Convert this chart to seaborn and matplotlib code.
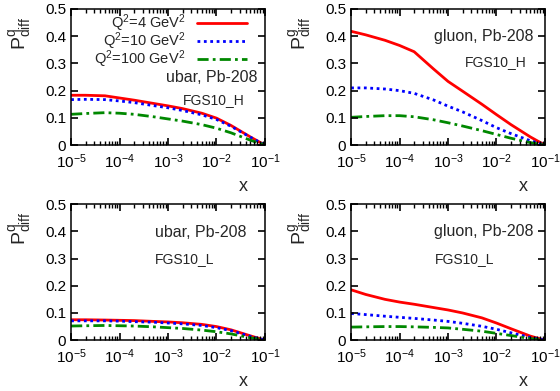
import numpy as np
import pandas as pd
import matplotlib
matplotlib.use("Agg")
import matplotlib.pyplot as plt
from matplotlib.ticker import LogLocator, NullFormatter
import seaborn as sns

sns.set_style("ticks")
plt.rcParams["font.family"] = ["Liberation Sans", "DejaVu Sans"]
plt.rcParams["mathtext.fontset"] = "custom"
plt.rcParams["mathtext.rm"] = "Liberation Sans"
plt.rcParams["mathtext.it"] = "Liberation Sans:italic"
plt.rcParams["axes.axisbelow"] = False

# data
x_grid = [1e-5, 2e-5, 5e-5, 1e-4, 2e-4, 5e-4, 1e-3, 2e-3, 5e-3, 1e-2, 2e-2, 5e-2, 1e-1]
q2_labels = ["Q$^2$=4 GeV$^2$", "Q$^2$=10 GeV$^2$", "Q$^2$=100 GeV$^2$"]

ubar_H_q4 = [0.183, 0.183, 0.181, 0.173, 0.165, 0.153, 0.144, 0.134, 0.117, 0.099, 0.072, 0.030, 0.0]
ubar_H_q10 = [0.167, 0.168, 0.167, 0.162, 0.156, 0.145, 0.137, 0.127, 0.111, 0.094, 0.069, 0.029, 0.0]
ubar_H_q100 = [0.113, 0.116, 0.119, 0.117, 0.113, 0.104, 0.096, 0.088, 0.075, 0.062, 0.045, 0.018, 0.0]

gluon_H_q4 = [0.418, 0.405, 0.385, 0.366, 0.343, 0.280, 0.234, 0.198, 0.150, 0.112, 0.075, 0.030, 0.0]
gluon_H_q10 = [0.210, 0.210, 0.206, 0.200, 0.190, 0.166, 0.143, 0.122, 0.090, 0.064, 0.042, 0.016, 0.0]
gluon_H_q100 = [0.102, 0.105, 0.108, 0.108, 0.104, 0.093, 0.082, 0.070, 0.053, 0.039, 0.025, 0.009, 0.0]

ubar_L_q4 = [0.075, 0.075, 0.074, 0.073, 0.072, 0.069, 0.067, 0.064, 0.058, 0.050, 0.038, 0.016, 0.0]
ubar_L_q10 = [0.071, 0.071, 0.071, 0.070, 0.068, 0.066, 0.063, 0.060, 0.054, 0.046, 0.035, 0.014, 0.0]
ubar_L_q100 = [0.052, 0.053, 0.054, 0.053, 0.052, 0.049, 0.046, 0.043, 0.037, 0.031, 0.023, 0.009, 0.0]

gluon_L_q4 = [0.185, 0.168, 0.150, 0.140, 0.132, 0.120, 0.111, 0.100, 0.082, 0.063, 0.042, 0.015, 0.0]
gluon_L_q10 = [0.098, 0.094, 0.088, 0.084, 0.080, 0.074, 0.069, 0.062, 0.051, 0.040, 0.027, 0.010, 0.0]
gluon_L_q100 = [0.048, 0.049, 0.050, 0.050, 0.049, 0.047, 0.045, 0.040, 0.033, 0.025, 0.017, 0.006, 0.0]

panels = [
    # (axes rect, series, parton superscript, label1, label2, text positions)
    ([0.127, 0.629, 0.346, 0.348], [ubar_H_q4, ubar_H_q10, ubar_H_q100], "q",
     "ubar, Pb-208", "FGS10_H", (0.964, 0.50, "right"), (0.897, 0.33, "right")),
    ([0.627, 0.629, 0.346, 0.348], [gluon_H_q4, gluon_H_q10, gluon_H_q100], "g",
     "gluon, Pb-208", "FGS10_H", (0.428, 0.80, "left"), (0.588, 0.61, "left")),
    ([0.127, 0.130, 0.346, 0.348], [ubar_L_q4, ubar_L_q10, ubar_L_q100], "q",
     "ubar, Pb-208", "FGS10_L", (0.433, 0.794, "left"), (0.433, 0.60, "left")),
    ([0.627, 0.130, 0.346, 0.348], [gluon_L_q4, gluon_L_q10, gluon_L_q100], "g",
     "gluon, Pb-208", "FGS10_L", (0.428, 0.80, "left"), (0.433, 0.60, "left")),
]

palette = {q2_labels[0]: "#ff0000", q2_labels[1]: "#0000ff", q2_labels[2]: "#008800"}
dashes = {q2_labels[0]: "", q2_labels[1]: (1, 1.3), q2_labels[2]: (4, 1.5, 1, 1.5)}

fig = plt.figure(figsize=(5.6, 3.91), dpi=100)

for i, (rect, series, parton, lab1, lab2, pos1, pos2) in enumerate(panels):
    ax = fig.add_axes(rect)
    df = pd.DataFrame({
        "x": np.tile(x_grid, 3),
        "P": np.concatenate(series),
        "Q2": np.repeat(q2_labels, len(x_grid)),
    })
    sns.lineplot(data=df, x="x", y="P", hue="Q2", style="Q2", palette=palette,
                 dashes=dashes, linewidth=2, legend=False, ax=ax)
    ax.set_xscale("log")
    ax.set_xlim(1e-5, 1e-1)
    ax.set_ylim(0, 0.5)
    ax.set_yticks([0, 0.1, 0.2, 0.3, 0.4, 0.5])
    ax.set_yticklabels(["0", "0.1", "0.2", "0.3", "0.4", "0.5"])
    ax.set_xticks([1e-5, 1e-4, 1e-3, 1e-2, 1e-1])
    ax.set_xticklabels(["10$^{-5}$", "10$^{-4}$", "10$^{-3}$", "10$^{-2}$", "10$^{-1}$"])
    ax.xaxis.set_minor_locator(LogLocator(base=10, subs=np.arange(2, 10), numticks=100))
    ax.xaxis.set_minor_formatter(NullFormatter())
    ax.tick_params(which="both", direction="in", top=True, right=True, labelsize=11,
                   color="black", labelcolor="black")
    ax.tick_params(which="major", length=5, width=1.2)
    ax.tick_params(axis="x", which="major", pad=5)
    ax.tick_params(which="minor", length=2.8, width=1)
    for sp in ax.spines.values():
        sp.set_linewidth(1.1)
        sp.set_color("black")
    ax.set_xlabel("x", fontsize=13)
    ax.xaxis.set_label_coords(0.887, -0.24)
    ax.set_ylabel("P$_{\\mathrm{diff}}^{\\mathrm{%s}}$" % parton, fontsize=14)
    ax.yaxis.set_label_coords(-0.19, 0.82)
    ax.text(pos1[0], pos1[1], lab1, transform=ax.transAxes, ha=pos1[2], va="center", fontsize=11.5)
    ax.text(pos2[0], pos2[1], lab2, transform=ax.transAxes, ha=pos2[2], va="center", fontsize=10)
    if i == 0:
        ax.legend(ax.lines, q2_labels, loc="upper right", bbox_to_anchor=(0.907, 0.975),
                  frameon=False, markerfirst=False, fontsize=10.5, handlelength=3.4,
                  handletextpad=0.8, labelspacing=-0.25, borderpad=0, borderaxespad=0)

fig.savefig("out.png", dpi=100)
